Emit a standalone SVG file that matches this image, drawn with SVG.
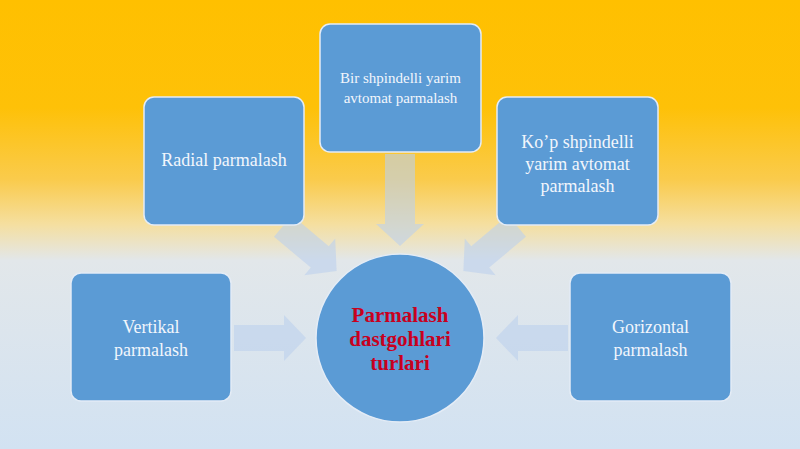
<svg xmlns="http://www.w3.org/2000/svg" width="800" height="449" viewBox="0 0 800 449">
<defs>
<linearGradient id="bg" x1="0" y1="0" x2="0" y2="1">
<stop offset="0" stop-color="#FFC000"/>
<stop offset="0.24" stop-color="#FEC108"/>
<stop offset="0.40" stop-color="#FACB4C"/>
<stop offset="0.50" stop-color="#F5DFA0"/>
<stop offset="0.58" stop-color="#E2E7EA"/>
<stop offset="1" stop-color="#D2E2F2"/>
</linearGradient>
<style>
.box{fill:#5B9BD5;stroke:#E4ECF6;stroke-width:1.5}
.t{font-family:"Liberation Serif",serif;fill:#F2F6FC;text-anchor:middle}
.arr{fill:#BCD0EC;opacity:0.6}
.c{font-family:"Liberation Serif",serif;font-weight:bold;fill:#C8001E;text-anchor:middle;font-size:21px}
</style>
</defs>
<rect width="800" height="449" fill="url(#bg)"/>
<g id="connectors">
<path class="arr" transform="translate(400,154) rotate(90)" d="M0,-15 H70 V-24 L92,0 L70,24 V15 H0 Z"/>
<path class="arr" transform="translate(283,226) rotate(40)" d="M0,-14 H48 V-24 L70,0 L48,24 V14 H0 Z"/>
<path class="arr" transform="translate(517,226) rotate(140)" d="M0,-14 H48 V-24 L70,0 L48,24 V14 H0 Z"/>
<path class="arr" transform="translate(234,338)" d="M0,-13 H50 V-23 L72,0 L50,23 V13 H0 Z"/>
<path class="arr" transform="translate(568,338) rotate(180)" d="M0,-13 H50 V-23 L72,0 L50,23 V13 H0 Z"/>
</g>
<g id="n-top">
<rect class="box" x="320" y="24" width="161" height="128" rx="10"/>
<text class="t" x="400.5" y="83" font-size="15">Bir shpindelli yarim</text>
<text class="t" x="400.5" y="103" font-size="15">avtomat parmalash</text>
</g>
<g id="n-radial">
<rect class="box" x="144" y="97" width="160" height="128" rx="10"/>
<text class="t" x="224" y="166" font-size="18">Radial parmalash</text>
</g>
<g id="n-kop">
<rect class="box" x="497" y="97" width="161" height="128" rx="10"/>
<text class="t" x="577.5" y="148" font-size="18">Ko’p shpindelli</text>
<text class="t" x="577.5" y="170" font-size="18">yarim avtomat</text>
<text class="t" x="577.5" y="192" font-size="18">parmalash</text>
</g>
<g id="n-vertikal">
<rect class="box" x="71" y="273" width="160" height="128" rx="10"/>
<text class="t" x="151" y="333" font-size="18">Vertikal</text>
<text class="t" x="151" y="356" font-size="18">parmalash</text>
</g>
<g id="n-gorizontal">
<rect class="box" x="570" y="273" width="161" height="128" rx="10"/>
<text class="t" x="650.5" y="333" font-size="18">Gorizontal</text>
<text class="t" x="650.5" y="356" font-size="18">parmalash</text>
</g>
<g id="n-center">
<circle cx="400" cy="338" r="84" fill="#5B9BD5" stroke="#E4ECF6" stroke-width="1.5"/>
<text class="c" x="400" y="322">Parmalash</text>
<text class="c" x="400" y="346">dastgohlari</text>
<text class="c" x="400" y="370">turlari</text>
</g>
</svg>
